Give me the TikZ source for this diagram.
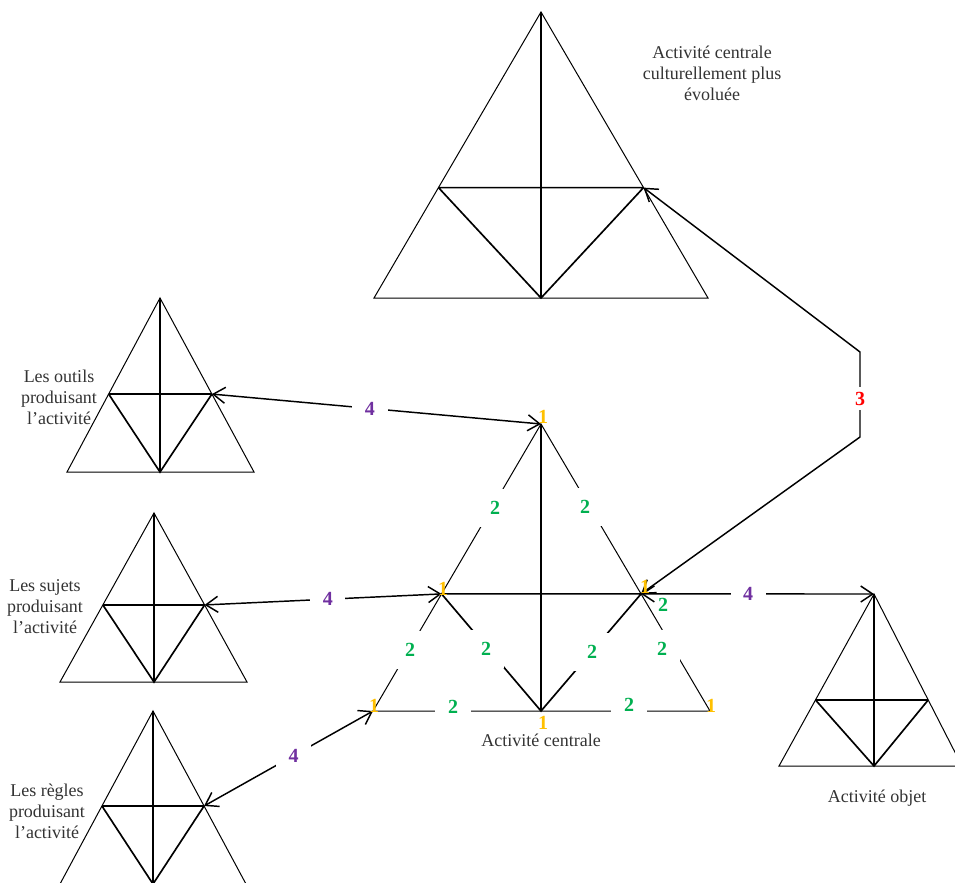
\documentclass[tikz,border=0pt]{standalone}
\usepackage{fontspec}
\setmainfont{Liberation Serif}
\usetikzlibrary{arrows.meta,calc}

\definecolor{amber}{HTML}{FFC000}
\definecolor{leaf}{HTML}{00B050}
\definecolor{plum}{HTML}{7030A0}
\definecolor{scarlet}{HTML}{FF0000}

\tikzset{every picture/.style={line width=0.55pt}}
\tikzset{
  rim/.style={line width=0.75pt},
  spoke/.style={line width=1.25pt},
  note/.style={align=center, text=black!80, inner sep=0pt, font=\fontsize{13.5}{15.8}\selectfont},
  tagnum/.style={inner sep=0pt, font=\fontsize{15}{16}\selectfont\bfseries},
  tagone/.style={tagnum, text=amber},
  tagtwo/.style={tagnum, text=leaf, fill=white, inner xsep=9.5pt, inner ysep=9.5pt},
  tagfour/.style={tagnum, text=plum, fill=white, inner xsep=9.5pt, inner ysep=9.5pt},
  tagthree/.style={tagnum, text=scarlet, fill=white, inner xsep=6pt, inner ysep=3.5pt},
  link/.style={line width=1.1pt, {Straight Barb[length=9pt,width=12pt]}-{Straight Barb[length=9pt,width=12pt]}},
}

\newcommand{\acttri}[5]{%
  \coordinate (#1-a) at #2;
  \coordinate (#1-l) at #3;
  \coordinate (#1-r) at #4;
  \coordinate (#1-b) at (#1-a |- #1-l);
  \coordinate (#1-p) at ($(#1-a)!#5!(#1-l)$);
  \coordinate (#1-q) at ($(#1-a)!#5!(#1-r)$);
  \draw[rim] (#1-a) -- (#1-l) -- (#1-r) -- cycle;
  \draw[spoke] (#1-p) -- (#1-q) (#1-a) -- (#1-b) (#1-p) -- (#1-b) -- (#1-q);
}

\begin{document}
\begin{tikzpicture}[x=0.75pt,y=0.75pt,yscale=-1,xscale=1]
\useasboundingbox (0,0) rectangle (955,882);
\clip (0,0) rectangle (955,882);

\acttri{top}{(541,12)}{(374,298)}{(708,298)}{0.614}
\acttri{outils}{(160,298)}{(67,472)}{(254,472)}{0.552}
\acttri{sujets}{(154,513)}{(60,682)}{(247,682)}{0.544}
\acttri{regles}{(153,711)}{(60,884)}{(246,884)}{0.549}
\acttri{objet}{(874,594)}{(779,766)}{(962,766)}{0.616}
\acttri{cen}{(541,424)}{(373,711)}{(710,711)}{0.592}

\node[tagtwo] (e1) at (495,508) {2};
\node[tagtwo] (e2) at (585,507) {2};
\node[tagtwo] (e3) at (410,650) {2};
\node[tagtwo] (e4) at (486,649) {2};
\node[tagtwo] (e5) at (592,652) {2};
\node[tagtwo] (e6) at (662,649) {2};
\node[tagtwo] (e7) at (453,707) {2};
\node[tagtwo] (e8) at (629,705) {2};
\node[tagtwo, fill=none] (e9) at (663,605) {2};

\coordinate (bend-lo) at (860,437);
\coordinate (bend-hi) at (860,352);

\draw[link] (outils-q) -- node[tagfour, pos=0.48] (w1) {4} (cen-a);
\draw[link] (sujets-q) -- node[tagfour, pos=0.52] (w2) {4} (cen-p);
\draw[link] (regles-q) -- node[tagfour, pos=0.53] (w3) {4} (cen-l);
\draw[link] (cen-q) -- node[tagfour, pos=0.46] (w4) {4} (objet-a);
\draw[link] (cen-q) -- (bend-lo) -- node[tagthree, pos=0.45] (k3) {3} (bend-hi) -- (top-q);

\node[tagone] (v1) at (543,417) {1};
\node[tagone] (v2) at (443,589) {1};
\node[tagone] (v3) at (645,587) {1};
\node[tagone] (v4) at (374,706) {1};
\node[tagone] (v5) at (543,723) {1};
\node[tagone] (v6) at (711,706) {1};

\node[note] (t-top) at (712,73) {Activité centrale\\culturellement plus\\évoluée};
\node[note] (t-outils) at (59,397) {Les outils\\produisant\\l’activité};
\node[note] (t-sujets) at (45,607) {Les sujets\\produisant\\l’activité};
\node[note] (t-regles) at (47,811) {Les règles\\produisant\\l’activité};
\node[note] (t-cen) at (541,740) {Activité centrale};
\node[note] (t-objet) at (877,798) {Activité objet};
\end{tikzpicture}
\end{document}
